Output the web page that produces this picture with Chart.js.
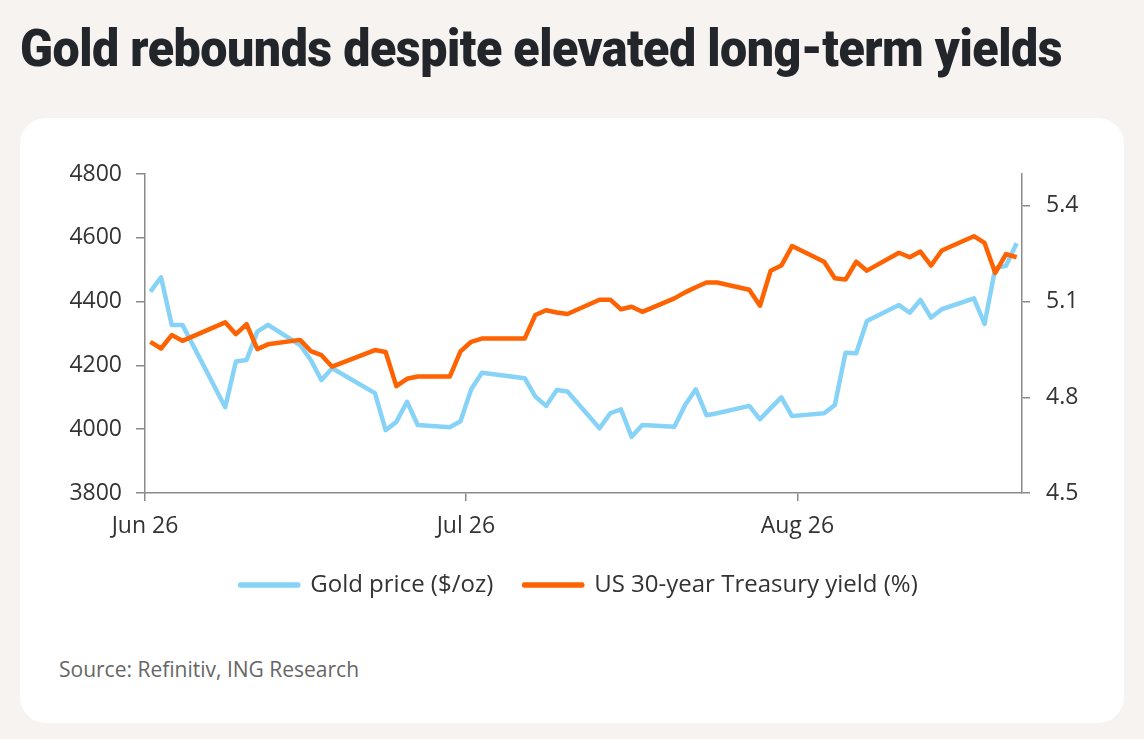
<!DOCTYPE html>
<html>
<head>
<meta charset="utf-8">
<script src="https://cdn.jsdelivr.net/npm/chart.js@4.4.1/dist/chart.umd.min.js"></script>
<style>
  html, body { margin: 0; padding: 0; }
  body { width: 1144px; height: 739px; background: #f6f3f0; position: relative; overflow: hidden; font-family: "Open Sans", sans-serif; }
  #title { position: absolute; left: 20px; top: 23px; margin: 0; font-family: Roboto, sans-serif; font-weight: 900; font-size: 52px; line-height: 52px; color: #22262b; white-space: nowrap; transform-origin: 0 0; letter-spacing: -0.5px; }
  #card { position: absolute; left: 20px; top: 118px; width: 1104px; height: 605px; background: #fff; border-radius: 26px; }
  #wrap { position: absolute; left: 20px; top: 118px; width: 1104px; height: 489px; }
  #source { position: absolute; left: 59px; top: 659px; font-size: 21px; line-height: 21px; color: #666; white-space: nowrap; }
</style>
</head>
<body>
<h1 id="title">Gold rebounds despite elevated long-term yields</h1>
<div id="card"></div>
<div id="wrap"><canvas id="chart"></canvas></div>
<div id="source">Source: Refinitiv, ING Research</div>
<script>
// trading days shown on the chart
const dates = [
  '2026-06-01', '2026-06-02', '2026-06-03', '2026-06-04', '2026-06-08', '2026-06-09', '2026-06-10',
  '2026-06-11', '2026-06-12', '2026-06-15', '2026-06-16', '2026-06-17', '2026-06-18', '2026-06-22',
  '2026-06-23', '2026-06-24', '2026-06-25', '2026-06-26', '2026-06-29', '2026-06-30', '2026-07-01',
  '2026-07-02', '2026-07-06', '2026-07-07', '2026-07-08', '2026-07-09', '2026-07-10', '2026-07-13',
  '2026-07-14', '2026-07-15', '2026-07-16', '2026-07-17', '2026-07-20', '2026-07-21', '2026-07-22',
  '2026-07-23', '2026-07-24', '2026-07-27', '2026-07-28', '2026-07-29', '2026-07-30', '2026-07-31',
  '2026-08-03', '2026-08-04', '2026-08-05', '2026-08-06', '2026-08-07', '2026-08-10', '2026-08-11',
  '2026-08-12', '2026-08-13', '2026-08-14', '2026-08-17', '2026-08-18', '2026-08-19', '2026-08-20',
  '2026-08-21'
];

// Gold price ($/oz)
const goldPrice = [
  4431, 4476, 4327, 4327, 4069, 4212, 4217,
  4306, 4327, 4264, 4217, 4154, 4191, 4113,
  3997, 4023, 4086, 4013, 4006, 4025, 4125,
  4177, 4160, 4102, 4073, 4123, 4118, 4003,
  4050, 4062, 3976, 4013, 4008, 4076, 4125,
  4044, 4050, 4073, 4031, 4066, 4100, 4041,
  4050, 4076, 4240, 4238, 4339, 4389, 4365,
  4405, 4350, 4376, 4410, 4330, 4505, 4512,
  4583
];

// US 30-year Treasury yield (%)
const yield30y = [
  4.974, 4.953, 4.995, 4.977, 5.035, 4.998, 5.029,
  4.951, 4.966, 4.980, 4.945, 4.932, 4.896, 4.948,
  4.942, 4.835, 4.858, 4.865, 4.865, 4.944, 4.974,
  4.984, 4.984, 5.058, 5.073, 5.066, 5.061, 5.106,
  5.106, 5.076, 5.084, 5.068, 5.110, 5.129, 5.145,
  5.160, 5.160, 5.137, 5.087, 5.197, 5.213, 5.274,
  5.225, 5.173, 5.169, 5.225, 5.197, 5.253, 5.239,
  5.257, 5.213, 5.260, 5.305, 5.284, 5.190, 5.249,
  5.239
];

const startDate = '2026-06-01';
const endDate = '2026-08-22';
const monthTicks = ['2026-06-01', '2026-07-01', '2026-08-01'];
const monthLabels = ['Jun 26', 'Jul 26', 'Aug 26'];
const leftTicks = [3800, 4000, 4200, 4400, 4600, 4800];
const rightTicks = [4.5, 4.8, 5.1, 5.4];

const DAY = 86400000;
function dayIndex(d) {
  return (Date.parse(d + 'T00:00:00Z') - Date.parse(startDate + 'T00:00:00Z')) / DAY;
}
// each point sits in the middle of its day, like a date axis
const goldPoints = dates.map((d, i) => ({ x: dayIndex(d) + 0.5, y: goldPrice[i] }));
const yieldPoints = dates.map((d, i) => ({ x: dayIndex(d) + 0.5, y: yield30y[i] }));

const axisGrey = '#8a8a8a';
const textCol = '#333333';
const tickFont = { family: 'Open Sans', size: 23 };

const ctx = document.getElementById('chart').getContext('2d');
new Chart(ctx, {
  type: 'line',
  data: {
    datasets: [{
      label: 'Gold price ($/oz)',
      data: goldPoints,
      yAxisID: 'y',
      borderColor: '#87d2f7',
      backgroundColor: '#87d2f7',
      borderWidth: 4.5,
      pointRadius: 0,
      tension: 0,
      borderJoinStyle: 'round',
      order: 1
    }, {
      label: 'US 30-year Treasury yield (%)',
      data: yieldPoints,
      yAxisID: 'y1',
      borderColor: '#ff6200',
      backgroundColor: '#ff6200',
      borderWidth: 4.5,
      pointRadius: 0,
      tension: 0,
      borderJoinStyle: 'round',
      order: 0
    }]
  },
  options: {
    responsive: true,
    maintainAspectRatio: false,
    animation: false,
    layout: { padding: { top: 56, left: 14, right: 0, bottom: 0 } },
    plugins: {
      tooltip: { enabled: false },
      legend: {
        position: 'bottom',
        labels: {
          boxWidth: 58,
          boxHeight: 1,
          padding: 31,
          color: textCol,
          font: { family: 'Open Sans', size: 24 },
          sort: (a, b) => a.datasetIndex - b.datasetIndex
        }
      }
    },
    scales: {
      x: {
        type: 'linear',
        min: dayIndex(startDate),
        max: dayIndex(endDate),
        afterBuildTicks: (scale) => {
          scale.ticks = monthTicks.map(d => ({ value: dayIndex(d) }));
        },
        afterFit: (scale) => { scale.height = 49; },
        ticks: {
          autoSkip: false,
          maxRotation: 0,
          padding: 12,
          color: textCol,
          font: tickFont,
          callback: (v) => monthLabels[monthTicks.findIndex(d => dayIndex(d) === v)]
        },
        grid: { drawOnChartArea: false, drawTicks: true, tickLength: 8, color: axisGrey, lineWidth: 1.5 },
        border: { display: true, color: axisGrey, width: 1.5 }
      },
      y: {
        position: 'left',
        min: 3800,
        max: 4800,
        afterBuildTicks: (scale) => {
          scale.ticks = leftTicks.map(v => ({ value: v }));
        },
        afterFit: (scale) => { scale.width = 111; },
        ticks: { padding: 14, color: textCol, font: tickFont, callback: (v) => String(v) },
        grid: { drawOnChartArea: false, drawTicks: true, tickLength: 9, color: axisGrey, lineWidth: 1.5 },
        border: { display: true, color: axisGrey, width: 1.5 }
      },
      y1: {
        position: 'right',
        min: 4.5,
        max: 5.5,
        afterBuildTicks: (scale) => {
          scale.ticks = rightTicks.map(v => ({ value: v }));
        },
        afterFit: (scale) => { scale.width = 102; },
        ticks: { padding: 16, color: textCol, font: tickFont, callback: (v) => v.toFixed(1) },
        grid: { drawOnChartArea: false, drawTicks: true, tickLength: 8, color: axisGrey, lineWidth: 1.5 },
        border: { display: true, color: axisGrey, width: 1.5 }
      }
    }
  }
});

// squeeze the headline to the width of the original
const title = document.getElementById('title');
const w = title.getBoundingClientRect().width;
title.style.transform = 'scaleX(' + (1042 / w) + ')';
</script>
</body>
</html>
